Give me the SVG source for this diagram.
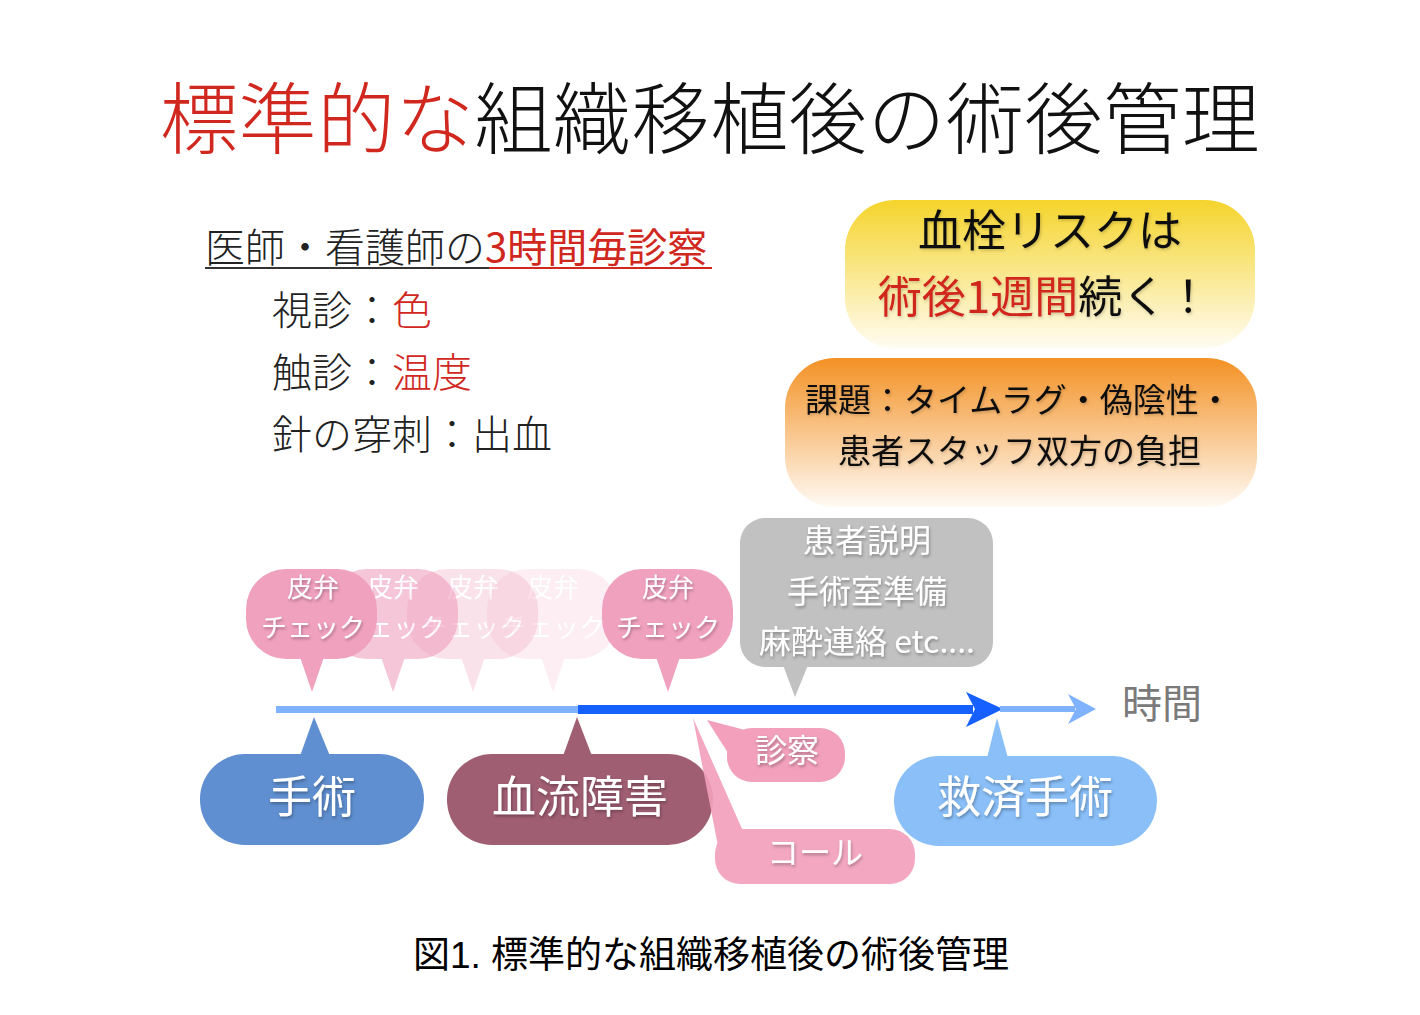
<svg xmlns="http://www.w3.org/2000/svg" width="1420" height="1015" viewBox="0 0 1420 1015">
<defs>
<style>
.jp{font-family:"Noto Sans CJK JP","Noto Sans",sans-serif;}
.w{fill:#ffffff;filter:url(#sh);}
.pink{fill:#f0a1be;}
.dk{fill:#222222;}
.red{fill:#d0281e;}
</style>
<filter id="sh" x="-20%" y="-20%" width="140%" height="140%">
<feDropShadow dx="1" dy="2" stdDeviation="1.5" flood-color="#000" flood-opacity="0.3"/>
</filter>
<filter id="sh2" x="-20%" y="-20%" width="140%" height="140%">
<feDropShadow dx="1" dy="1.5" stdDeviation="1.5" flood-color="#000" flood-opacity="0.2"/>
</filter>
<linearGradient id="gy" x1="0" y1="0" x2="0" y2="1">
<stop offset="0" stop-color="#f5d42c"/>
<stop offset="1" stop-color="#fffcf2"/>
</linearGradient>
<linearGradient id="go" x1="0" y1="0" x2="0" y2="1">
<stop offset="0" stop-color="#f39124"/>
<stop offset="1" stop-color="#fffaf4"/>
</linearGradient>
<g id="chk">
<rect x="-66" y="0" width="131" height="90" rx="40"/>
<polygon points="-12,88 12,88 0,123"/>
</g>
</defs>
<rect width="1420" height="1015" fill="#ffffff"/>

<g id="title" class="jp" font-size="78" font-weight="300">
<text x="160" y="148" letter-spacing="0.6"><tspan class="red">標準的な</tspan><tspan fill="#111">組織移植後の術後管理</tspan></text>
</g>

<g id="exam" class="jp" font-size="40" font-weight="300">
<text x="205" y="262"><tspan class="dk">医師・看護師の</tspan><tspan class="red" font-weight="400">3時間毎診察</tspan></text>
<line x1="205" y1="268" x2="489" y2="268" stroke="#333" stroke-width="2"/>
<line x1="489" y1="268" x2="712" y2="268" stroke="#d0281e" stroke-width="2"/>
<text x="272" y="325" class="dk">視診：<tspan class="red">色</tspan></text>
<text x="272" y="387" class="dk">触診：<tspan class="red">温度</tspan></text>
<text x="272" y="449" class="dk">針の穿刺：出血</text>
</g>

<g id="risk">
<rect x="845" y="200" width="410" height="148" rx="50" fill="url(#gy)"/>
<g class="jp" font-size="44" text-anchor="middle" filter="url(#sh2)">
<text x="1050" y="247" fill="#111">血栓リスクは</text>
<text x="1044" y="313"><tspan class="red">術後1週間</tspan><tspan fill="#111">続く！</tspan></text>
</g>
</g>

<g id="issue">
<rect x="785" y="358" width="472" height="149" rx="50" fill="url(#go)"/>
<g class="jp" font-size="33" fill="#111" filter="url(#sh2)">
<text x="805" y="412">課題：タイムラグ・偽陰性・</text>
<text x="838" y="463">患者スタッフ双方の負担</text>
</g>
</g>

<g id="connectors">
<rect x="276" y="706" width="302" height="7" fill="#7fb2ff"/>
<rect x="578" y="705" width="395" height="9" fill="#1560ff"/>
<polygon points="966,692 1003,709 966,727 975,709" fill="#1560ff"/>
<rect x="1000" y="706" width="75" height="6" fill="#7fb2ff"/>
<polygon points="1068,694 1096,709 1068,724 1076,709" fill="#7fb2ff"/>
</g>

<g id="time-label">
<text x="1122" y="718" class="jp" font-size="40" fill="#7a7a7a">時間</text>
</g>

<g id="check5" class="pink" opacity="0.17">
<use href="#chk" x="553" y="569"/>
<g class="jp" font-size="26" text-anchor="middle" fill="#fff"><text x="553" y="597">皮弁</text><text x="553" y="637">チェック</text></g>
</g>
<g id="check4" class="pink" opacity="0.3">
<use href="#chk" x="473" y="569"/>
<g class="jp" font-size="26" text-anchor="middle" fill="#fff"><text x="473" y="597">皮弁</text><text x="473" y="637">チェック</text></g>
</g>
<g id="check3" class="pink" opacity="0.6">
<use href="#chk" x="393" y="569"/>
<g class="jp" font-size="26" text-anchor="middle" fill="#fff"><text x="393" y="597">皮弁</text><text x="393" y="637">チェック</text></g>
</g>
<g id="check1" class="pink">
<use href="#chk" x="312" y="569"/>
<g class="jp" font-size="26" text-anchor="middle"><text class="w" x="313" y="597">皮弁</text><text class="w" x="313" y="637">チェック</text></g>
</g>
<g id="check2" class="pink">
<use href="#chk" x="668" y="569"/>
<g class="jp" font-size="26" text-anchor="middle"><text class="w" x="668" y="597">皮弁</text><text class="w" x="668" y="637">チェック</text></g>
</g>

<g id="prep">
<rect x="740" y="518" width="253" height="149" rx="25" fill="#c1c1c1"/>
<polygon points="783,665 808,665 795,697" fill="#c1c1c1"/>
<g class="jp" font-size="32" text-anchor="middle">
<text class="w" x="867" y="552">患者説明</text>
<text class="w" x="867" y="603">手術室準備</text>
<text class="w" x="867" y="653">麻酔連絡 etc....</text>
</g>
</g>

<g id="surgery">
<rect x="200" y="754" width="224" height="91" rx="45" fill="#5f8fd0"/>
<polygon points="300,756 330,756 314,717" fill="#5f8fd0"/>
<text class="jp w" x="312" y="813" font-size="44" text-anchor="middle">手術</text>
</g>

<g id="blood">
<rect x="447" y="754" width="266" height="91" rx="45" fill="#a05e73"/>
<polygon points="563,756 592,756 577,717" fill="#a05e73"/>
<text class="jp w" x="580" y="813" font-size="44" text-anchor="middle">血流障害</text>
</g>

<g id="salvage">
<rect x="894" y="756" width="263" height="90" rx="45" fill="#8abff8"/>
<polygon points="987,758 1008,758 997,718" fill="#8abff8"/>
<text class="jp w" x="1025" y="813" font-size="44" text-anchor="middle">救済手術</text>
</g>

<g id="exam-bubble" fill="#f2a0bc">
<rect x="727" y="728" width="118" height="54" rx="25"/>
<polygon points="707,720 745,730 730,756"/>
<text class="jp w" x="787" y="762" font-size="32" text-anchor="middle">診察</text>
</g>

<g id="call" fill="#f2a0bc" opacity="0.92">
<rect x="715" y="829" width="200" height="55" rx="25"/>
<polygon points="693,718 743,831 718,846"/>
<text class="jp w" x="815" y="864" font-size="32" text-anchor="middle">コール</text>
</g>

<g id="caption">
<text x="711" y="968" font-family="Liberation Sans, 'Noto Sans CJK JP', sans-serif" font-size="37" fill="#000" text-anchor="middle">図1. 標準的な組織移植後の術後管理</text>
</g>
</svg>
